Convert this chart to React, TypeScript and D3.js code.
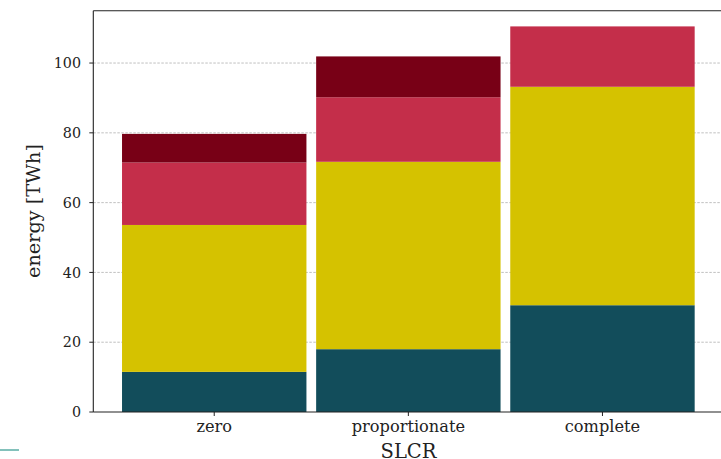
import React from "react";
import * as d3 from "d3";

const categories = ["zero", "proportionate", "complete"];
const seriesNames = ["s1", "s2", "s3", "s4"];
const s1 = [11.5, 18.0, 30.6];
const s2 = [42.1, 53.7, 62.6];
const s3 = [17.9, 18.5, 17.3];
const s4 = [8.2, 11.7, 0];
const colors = ["#124d5b", "#d5c200", "#c42e4a", "#780016"];
const yTicks = [0, 20, 40, 60, 80, 100];

const W = 721;
const H = 459;
const left = 93.3;
const right = 723.4;
const top = 10.7;
const bottom = 412;

export default function App() {
  const x = d3.scaleBand<string>().domain(categories).range([left, right]).paddingInner(0.05).paddingOuter(0.148);
  const y = d3.scaleLinear().domain([0, 115]).range([bottom, top]);
  const rows = categories.map((c, i) => ({ cat: c, s1: s1[i], s2: s2[i], s3: s3[i], s4: s4[i] }));
  const stack = d3.stack<any>().keys(seriesNames)(rows);
  const font = "'DejaVu Serif', serif";
  return (
    <svg width={W} height={H} style={{ position: "absolute", left: 0, top: 0, display: "block" }}>
      <rect width={W} height={H} fill="#fff" />
      {yTicks.filter((t) => t > 0).map((t) => (
        <line key={"g" + t} x1={left} x2={right} y1={y(t)} y2={y(t)} stroke="#b0b0b0" strokeWidth={0.8} strokeDasharray="2.5,1.5" />
      ))}
      {stack.map((layer, si) => (
        <g key={si}>
          {layer.map((d, i) => {
            const h = y(d[0]) - y(d[1]);
            if (h <= 0) return null;
            return (
              <rect key={i} x={x(categories[i])} y={y(d[1])} width={x.bandwidth()} height={h} fill={colors[si]} />
            );
          })}
        </g>
      ))}
      <line x1={left} x2={left} y1={top} y2={bottom} stroke="#222" strokeWidth={1.1} />
      <line x1={left} x2={right} y1={top} y2={top} stroke="#222" strokeWidth={1.1} />
      <line x1={left} x2={right} y1={bottom} y2={bottom} stroke="#222" strokeWidth={1.1} />
      {yTicks.map((t) => (
        <g key={"t" + t}>
          <line x1={left - 4} x2={left} y1={y(t)} y2={y(t)} stroke="#222" strokeWidth={1} />
          <text x={81} y={y(t)} dy="0.36em" textAnchor="end" fontFamily={font} fontSize={14.3} fill="#222">{t}</text>
        </g>
      ))}
      {categories.map((c) => {
        const cx = (x(c) as number) + x.bandwidth() / 2;
        return (
          <g key={c}>
            <line x1={cx} x2={cx} y1={bottom} y2={bottom + 4} stroke="#222" strokeWidth={1} />
            <text x={cx} y={432.3} textAnchor="middle" fontFamily={font} fontSize={16.2} fill="#222">{c}</text>
          </g>
        );
      })}
      <text x={408.5} y={457.5} textAnchor="middle" fontFamily={font} fontSize={19.5} fill="#222">SLCR</text>
      <text transform={`translate(40,211) rotate(-90)`} textAnchor="middle" fontFamily={font} fontSize={19.3} fill="#222">energy [TWh]</text>
      <line x1={0} x2={19} y1={450} y2={450} stroke="#5aada4" strokeWidth={1.5} />
    </svg>
  );
}
